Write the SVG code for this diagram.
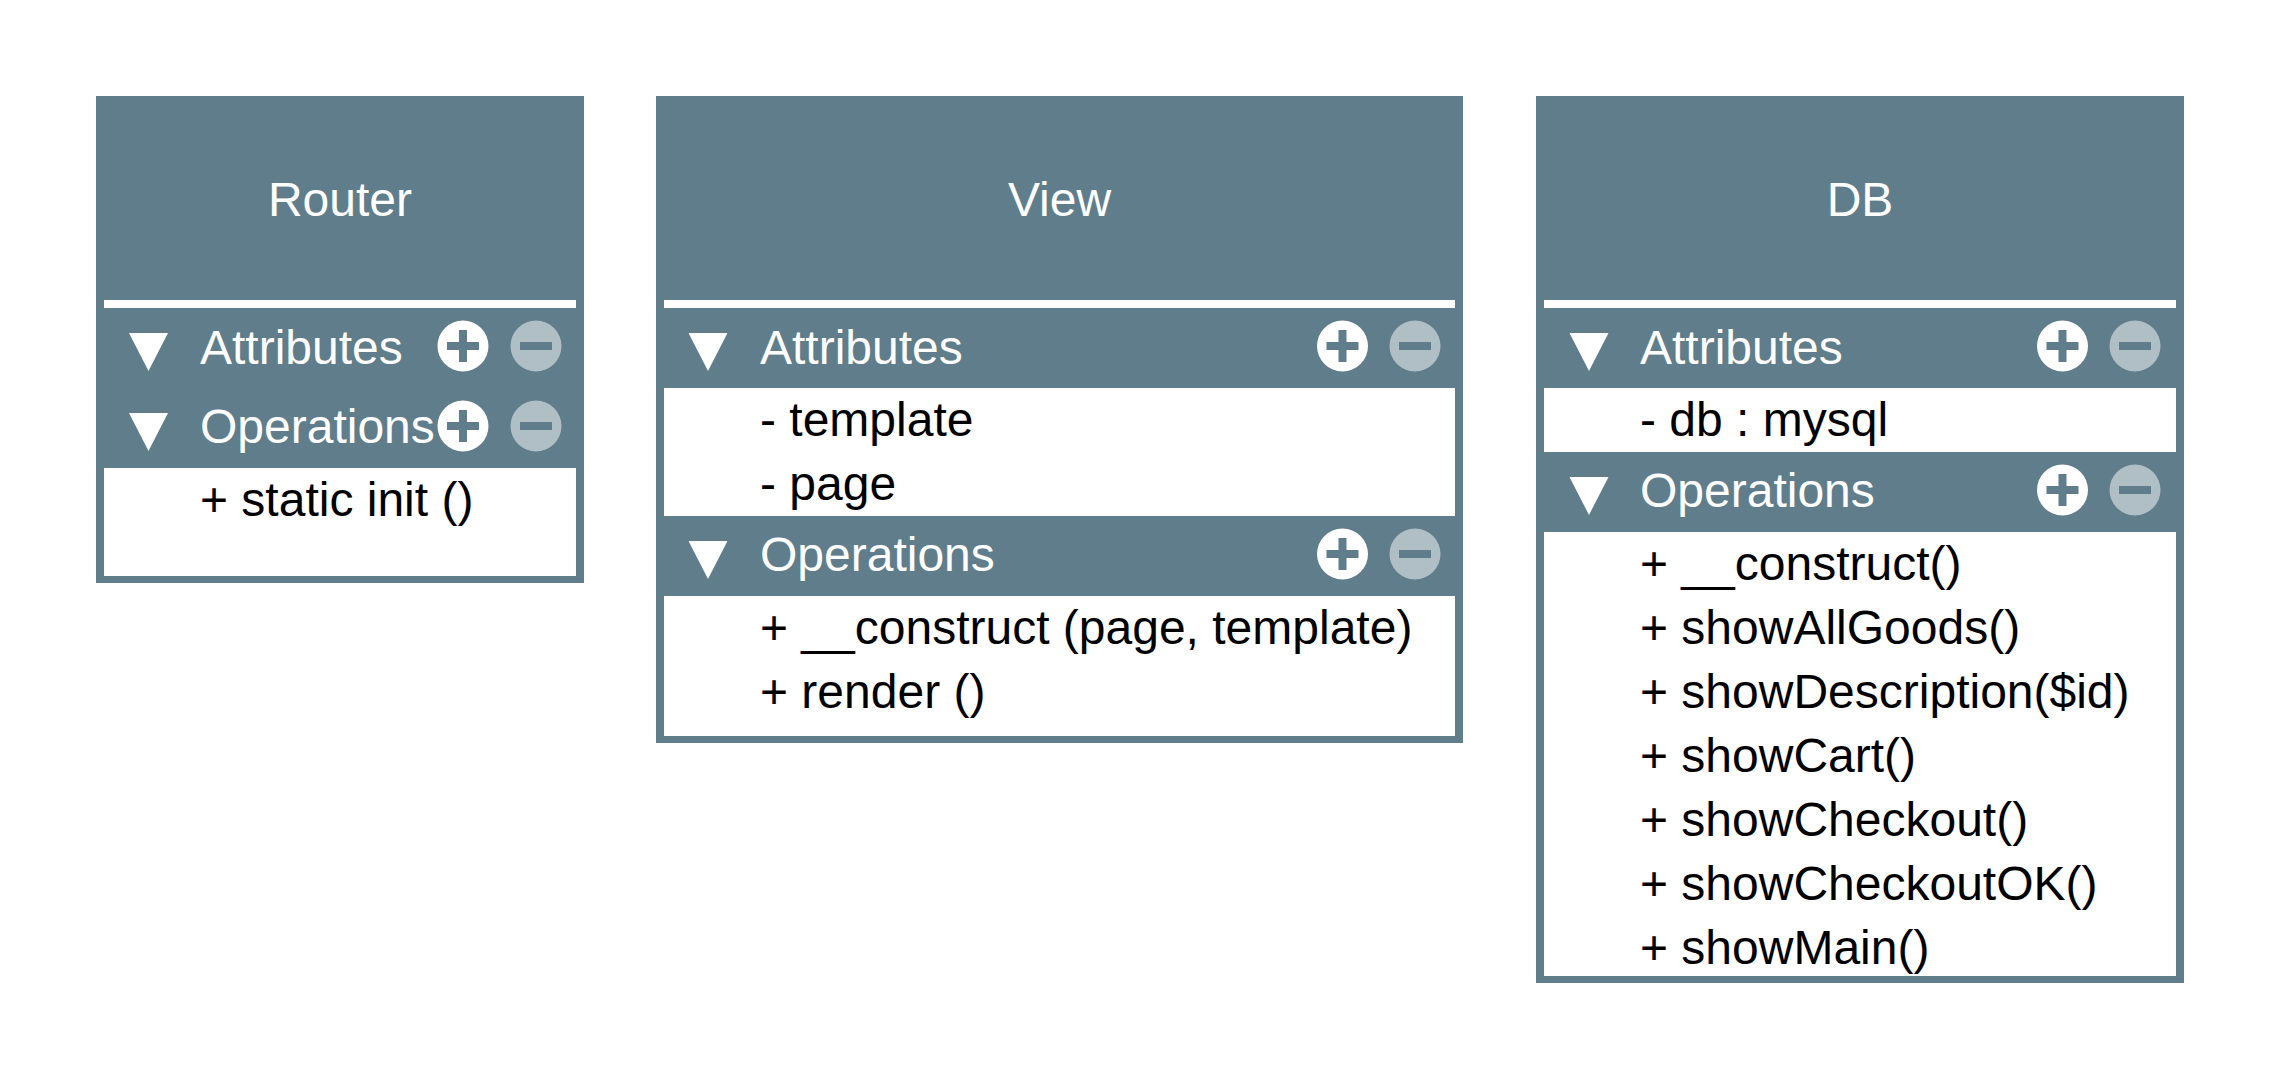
<svg xmlns="http://www.w3.org/2000/svg" width="2280" height="1080" viewBox="0 0 2280 1080">
<style>
.box{fill:#607D8B}
.wh{fill:#FFFFFF}
.title{font-family:"Liberation Sans",Arial,sans-serif;font-size:48px;fill:#FFFFFF;text-anchor:middle}
.hdr{font-family:"Liberation Sans",Arial,sans-serif;font-size:48px;fill:#FFFFFF}
.item{font-family:"Liberation Sans",Arial,sans-serif;font-size:48px;fill:#000000}
.tri{fill:#FFFFFF}
.plusc{fill:#FFFFFF}
.minusc{fill:#B0BEC5}
.sym{stroke:#607D8B;stroke-width:8;fill:none}
</style>
<defs>
<polygon id="tri" class="tri" points="-19.5,0 19.5,0 0,38"/>
<g id="plus"><circle class="plusc" r="25.5"/><path class="sym" d="M-16,0H16M0,-16V16"/></g>
<g id="minus"><circle class="minusc" r="25.5"/><path class="sym" d="M-16,0H16"/></g>
</defs>
<rect width="2280" height="1080" fill="#FFFFFF"/>

<g id="router">
<rect class="box" x="96" y="96" width="488" height="487"/>
<text class="title" x="340" y="216">Router</text>
<rect class="wh" x="104" y="300" width="472" height="8"/>
<use href="#tri" x="148.5" y="333"/>
<text class="hdr" x="200" y="364">Attributes</text>
<use href="#plus" x="463" y="346"/>
<use href="#minus" x="536" y="346"/>
<use href="#tri" x="148.5" y="413"/>
<text class="hdr" x="200" y="443">Operations</text>
<use href="#plus" x="463" y="426"/>
<use href="#minus" x="536" y="426"/>
<rect class="wh" x="104" y="468" width="472" height="108"/>
<text class="item" x="200" y="516">+ static init ()</text>
</g>

<g id="view">
<rect class="box" x="656" y="96" width="807" height="647"/>
<text class="title" x="1059.5" y="216">View</text>
<rect class="wh" x="664" y="300" width="791" height="8"/>
<use href="#tri" x="708" y="333"/>
<text class="hdr" x="760" y="364">Attributes</text>
<use href="#plus" x="1342.5" y="346"/>
<use href="#minus" x="1415" y="346"/>
<rect class="wh" x="664" y="388" width="791" height="128"/>
<text class="item" x="760" y="436">- template</text>
<text class="item" x="760" y="500">- page</text>
<use href="#tri" x="708" y="541"/>
<text class="hdr" x="760" y="571">Operations</text>
<use href="#plus" x="1342.5" y="554"/>
<use href="#minus" x="1415" y="554"/>
<rect class="wh" x="664" y="596" width="791" height="140"/>
<text class="item" x="760" y="644">+ __construct (page, template)</text>
<text class="item" x="760" y="708">+ render ()</text>
</g>

<g id="db">
<rect class="box" x="1536" y="96" width="648" height="887"/>
<text class="title" x="1860" y="216">DB</text>
<rect class="wh" x="1544" y="300" width="632" height="8"/>
<use href="#tri" x="1589" y="333"/>
<text class="hdr" x="1640" y="364">Attributes</text>
<use href="#plus" x="2062.5" y="346"/>
<use href="#minus" x="2135" y="346"/>
<rect class="wh" x="1544" y="388" width="632" height="64"/>
<text class="item" x="1640" y="436">- db : mysql</text>
<use href="#tri" x="1589" y="477"/>
<text class="hdr" x="1640" y="507">Operations</text>
<use href="#plus" x="2062.5" y="490"/>
<use href="#minus" x="2135" y="490"/>
<rect class="wh" x="1544" y="532" width="632" height="444"/>
<text class="item" x="1640" y="580">+ __construct()</text>
<text class="item" x="1640" y="644">+ showAllGoods()</text>
<text class="item" x="1640" y="708">+ showDescription($id)</text>
<text class="item" x="1640" y="772">+ showCart()</text>
<text class="item" x="1640" y="836">+ showCheckout()</text>
<text class="item" x="1640" y="900">+ showCheckoutOK()</text>
<text class="item" x="1640" y="964">+ showMain()</text>
</g>

<g id="connectors"></g>
</svg>
